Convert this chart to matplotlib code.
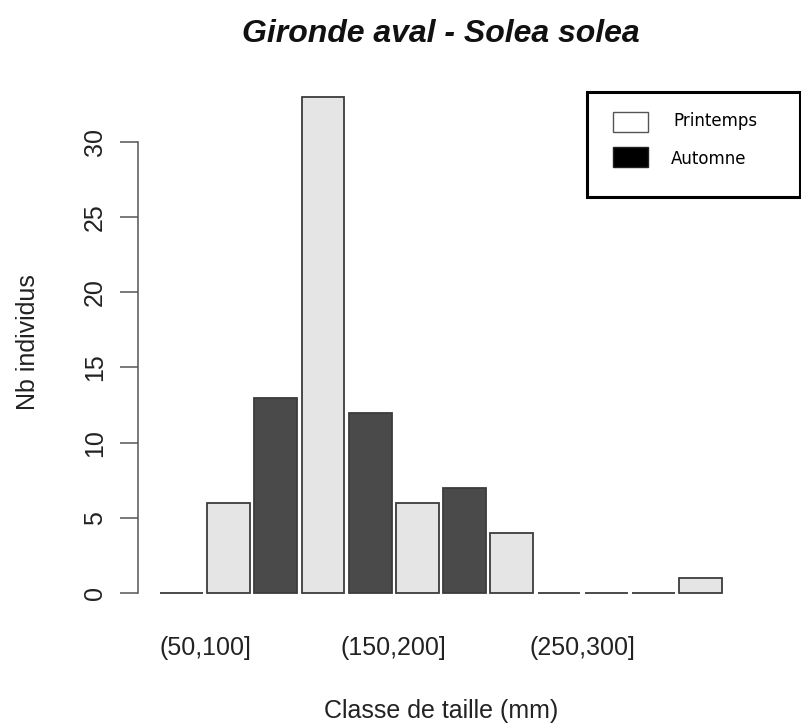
import numpy as np
import matplotlib
matplotlib.use("Agg")
import matplotlib.pyplot as plt
from matplotlib.patches import Rectangle

# Data
classes = ["(50,100]", "(100,150]", "(150,200]", "(200,250]", "(250,300]", "(300,350]"]
automne = [0, 13, 12, 7, 0, 0]
printemps = [6, 33, 6, 4, 0, 1]
y_ticks = [0, 5, 10, 15, 20, 25, 30]

plt.rcParams['font.family'] = ['Liberation Sans', 'DejaVu Sans']

light = "#e5e5e5"
dark = "#4a4a4a"
edge = "#3c3c3c"
axis_col = "#555555"

fig = plt.figure(figsize=(8.01, 7.24), dpi=100)
fig.set_facecolor("white")
ax = fig.add_axes([0.1717, 0.1536, 0.7578, 0.7399])

# R style barplot, beside=TRUE, space 0.1 between every bar
g = np.arange(len(classes))
x_dark = 0.6 + 2.2 * g
x_light = 1.7 + 2.2 * g
ax.bar(x_dark, automne, width=1.0, color=dark, edgecolor=edge, linewidth=1.3)
ax.bar(x_light, printemps, width=1.0, color=light, edgecolor=edge, linewidth=1.3)

lo, hi = 0.1, 0.1 + 1.1 * (2 * len(classes) - 1) + 1.0
ext = 0.04 * (hi - lo)
ax.set_xlim(lo - ext, hi + ext)
ymax = max(max(automne), max(printemps))
ax.set_ylim(-0.04 * ymax, ymax * 1.04)

# Axes tidy
for s in ['top', 'right', 'bottom']:
    ax.spines[s].set_visible(False)
ax.spines['left'].set_bounds(0, 30)
ax.spines['left'].set_color(axis_col)
ax.spines['left'].set_linewidth(1.1)

ax.set_yticks(y_ticks)
ax.set_yticklabels([str(v) for v in y_ticks], rotation=90, va='center')
ax.tick_params(axis='y', length=13, width=1.1, color=axis_col, pad=9, labelsize=18, labelcolor="#222222")

# every other group label (R drops the overlapping ones)
centers = (x_dark + x_light) / 2
ax.set_xticks(centers[::2])
ax.set_xticklabels(classes[::2])
ax.tick_params(axis='x', length=0, pad=17, labelsize=18, labelcolor="#222222")

ax.set_xlabel("Classe de taille (mm)", fontsize=18, color="#222222")
ax.xaxis.set_label_coords(0.5, -0.183)
ax.xaxis.label.set_verticalalignment('center')
ax.set_ylabel("Nb individus", fontsize=18, color="#222222")
ax.yaxis.set_label_coords(-0.181, 0.505)
ax.yaxis.label.set_verticalalignment('center')

ax.set_title("Gironde aval - Solea solea", fontsize=23, fontweight='bold',
             fontstyle='italic', y=1.065, va='center', color="#111111")

# Legend box (top right, cut by the figure edge)
W, H = 801.0, 724.0
def fx(px):
    return px / W
def fy(py):
    return 1 - py / H

fig.patches.append(Rectangle((fx(587), fy(197)), fx(800) - fx(587), fy(92) - fy(197),
                             transform=fig.transFigure, fill=False, edgecolor="black",
                             linewidth=2.2))
fig.patches.append(Rectangle((fx(613), fy(132)), fx(648) - fx(613), fy(112) - fy(132),
                             transform=fig.transFigure, facecolor="white",
                             edgecolor="#555555", linewidth=1.0))
fig.patches.append(Rectangle((fx(613), fy(167)), fx(648) - fx(613), fy(147) - fy(167),
                             transform=fig.transFigure, facecolor="black",
                             edgecolor="#222222", linewidth=1.0))
fig.text(fx(673), fy(121), "Printemps", fontsize=12, family='DejaVu Sans', va='center')
fig.text(fx(671), fy(159), "Automne", fontsize=12, family='DejaVu Sans', va='center')

fig.savefig("out.png", dpi=100, facecolor="white")
